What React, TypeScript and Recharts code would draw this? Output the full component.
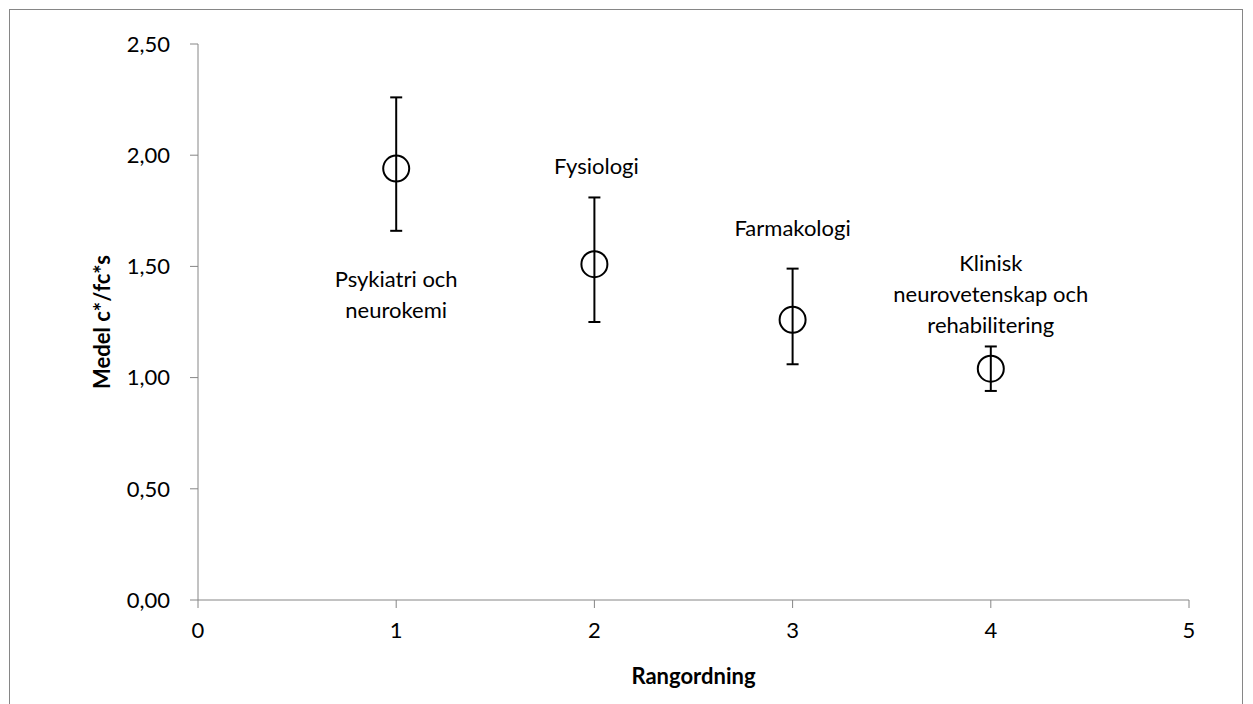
import React from 'react';
import { ScatterChart, Scatter, XAxis, YAxis, ErrorBar } from 'recharts';

const ranks = [1, 2, 3, 4];
const means = [1.94, 1.51, 1.26, 1.04];
const errLow = [0.28, 0.26, 0.2, 0.1];
const errHigh = [0.32, 0.3, 0.23, 0.1];
const pointLabels: string[][] = [
  ['Psykiatri och', 'neurokemi'],
  ['Fysiologi'],
  ['Farmakologi'],
  ['Klinisk', 'neurovetenskap och', 'rehabilitering'],
];
// label placement (pixel offset of the first line's centre from the marker)
const labelDy = [110, -99, -92, -106];
const labelDx = [0, 2, 0, 0];

const xTicks = [0, 1, 2, 3, 4, 5];
const yTicks = [0, 0.5, 1, 1.5, 2, 2.5];

const data = ranks.map((r, i) => ({
  rank: r,
  mean: means[i],
  err: [errLow[i], errHigh[i]],
  idx: i,
}));

const FONT = 'Lato, "Open Sans", sans-serif';
const AXIS = '#868686';
const LINE_H = 31;

const PointShape = (props: any) => {
  const { cx, cy, payload } = props;
  const i = payload.idx;
  const lines = pointLabels[i];
  return (
    <g>
      <circle cx={cx} cy={cy} r={13} fill="none" stroke="#000" strokeWidth={2} />
      {lines.map((t, k) => (
        <text
          key={k}
          x={cx + labelDx[i]}
          y={cy + labelDy[i] + k * LINE_H}
          textAnchor="middle"
          dominantBaseline="central"
          fontFamily={FONT}
          fontSize={22}
          fill="#000"
        >
          {t}
        </text>
      ))}
    </g>
  );
};

export default function App() {
  return (
    <div style={{ position: 'absolute', left: 0, top: 0, width: 1253, height: 704, background: '#fff', overflow: 'hidden' }}>
      <div
        style={{
          position: 'absolute',
          left: 9,
          top: 9,
          width: 1234,
          height: 720,
          border: '1px solid #868686',
          boxSizing: 'border-box',
        }}
      />
      <div style={{ position: 'absolute', left: 0, top: 0 }}>
        <ScatterChart width={1253} height={704} margin={{ top: 44, right: 64, left: 98, bottom: 12 }}>
          <XAxis
            type="number"
            dataKey="rank"
            domain={[0, 5]}
            ticks={xTicks}
            height={92}
            stroke={AXIS}
            tickLine={{ stroke: AXIS }}
            tickSize={8}
            tickMargin={14}
            tick={{ fill: '#000', fontSize: 22, fontFamily: FONT }}
            label={{
              value: 'Rangordning',
              position: 'insideBottom',
              offset: 8,
              style: { fontFamily: FONT, fontSize: 22, fontWeight: 'bold', fill: '#000' },
            }}
          />
          <YAxis
            type="number"
            dataKey="mean"
            domain={[0, 2.5]}
            ticks={yTicks}
            width={100}
            stroke={AXIS}
            tickLine={{ stroke: AXIS }}
            tickSize={8}
            tickMargin={20}
            tickFormatter={(v: number) => v.toFixed(2).replace('.', ',')}
            tick={{ fill: '#000', fontSize: 22, fontFamily: FONT }}
            label={{
              value: 'Medel c*/fc*s',
              angle: -90,
              position: 'insideLeft',
              offset: 4,
              style: { fontFamily: FONT, fontSize: 22, fontWeight: 'bold', fill: '#000', textAnchor: 'middle' },
            }}
          />
          <Scatter data={data} shape={PointShape} isAnimationActive={false}>
            <ErrorBar dataKey="err" direction="y" width={6} stroke="#000" strokeWidth={2} isAnimationActive={false} />
          </Scatter>
        </ScatterChart>
      </div>
    </div>
  );
}
